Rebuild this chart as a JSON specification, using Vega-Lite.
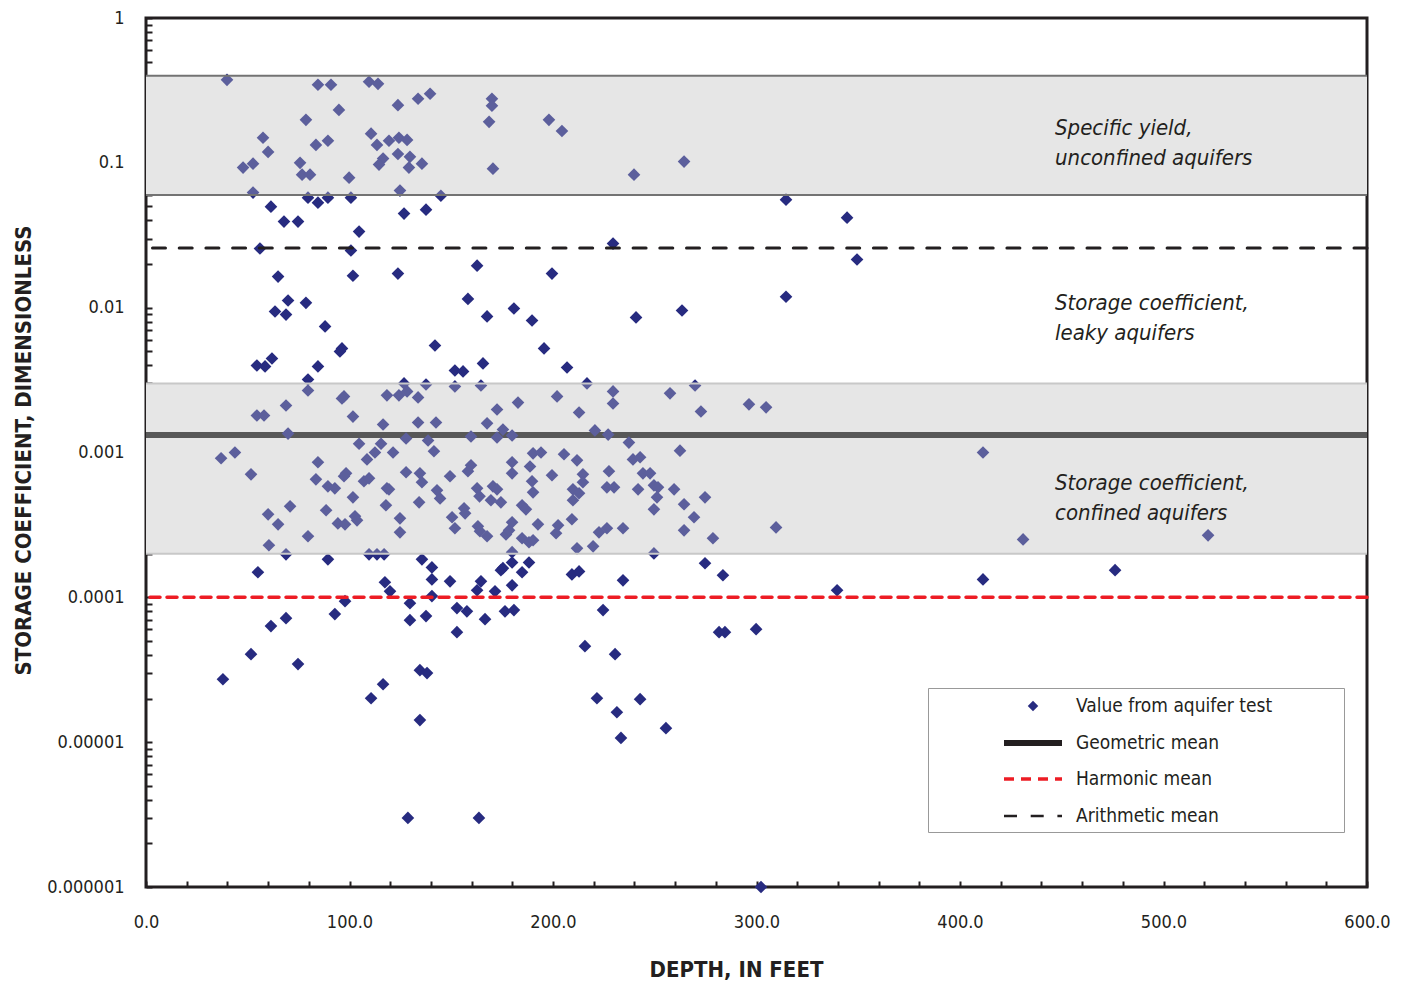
{
  "$schema": "https://vega.github.io/schema/vega-lite/v6.json",
  "width": 1221,
  "height": 869,
  "autosize": {"type": "none"},
  "padding": {"left": 146, "top": 18, "right": 35, "bottom": 94},
  "background": "white",
  "config": {
    "view": {"stroke": "#231f20", "strokeWidth": 3},
    "font": "DejaVu Sans Condensed, Roboto, sans-serif",
    "axis": {
      "labelFont": "DejaVu Sans Condensed, Roboto, sans-serif",
      "labelFontSize": 18,
      "labelColor": "#231f20",
      "titleFont": "DejaVu Sans Condensed, Roboto, sans-serif",
      "titleFontSize": 22,
      "titleFontWeight": "bold",
      "titleColor": "#231f20",
      "grid": false,
      "domain": false,
      "tickColor": "#231f20",
      "tickWidth": 2
    },
    "legend": {"padding": 0}
  },
  "resolve": {"scale": {"strokeDash": "independent"}, "legend": {"strokeDash": "independent"}},
  "layer": [
    {
      "data": {"values": [{"lo": 0.06, "hi": 0.4}, {"lo": 0.0002, "hi": 0.003}]},
      "mark": {"type": "rect", "fill": "#e6e6e6"},
      "encoding": {
        "x": {"datum": 0, "type": "quantitative", "scale": {"domain": [0, 600], "nice": false, "zero": false},
          "axis": {"title": "DEPTH, IN FEET", "values": [0,20,40,60,80,100,120,140,160,180,200,220,240,260,280,300,320,340,360,380,400,420,440,460,480,500,520,540,560,580,600],
            "format": ".1f", "labelExpr": "datum.value % 100 === 0 ? datum.label : ''", "labelOverlap": false, "labelBound": false, "labelFlush": false,
            "tickSize": -6, "labelPadding": 32, "titleX": 590, "titleY": 82, "titleBaseline": "middle"}},
        "x2": {"datum": 600},
        "y": {"field": "hi", "type": "quantitative", "scale": {"type": "log", "domain": [0.000001, 1], "nice": false},
          "axis": {"title": "STORAGE COEFFICIENT, DIMENSIONLESS",
            "values": [0.000001,0.000002,0.000003,0.000004,0.000005,0.000006,0.000007,0.000008,0.000009,0.00001,0.00002,0.00003,0.00004,0.00005,0.00006,0.00007,0.00008,0.00009,0.0001,0.0002,0.0003,0.0004,0.0005,0.0006,0.0007,0.0008,0.0009,0.001,0.002,0.003,0.004,0.005,0.006,0.007,0.008,0.009,0.01,0.02,0.03,0.04,0.05,0.06,0.07,0.08,0.09,0.1,0.2,0.3,0.4,0.5,0.6,0.7,0.8,0.9,1],
            "format": "~f",
            "labelExpr": "abs(log(datum.value)/LN10 - round(log(datum.value)/LN10)) < 0.000001 ? datum.label : ''",
            "labelOverlap": false, "labelBound": false, "labelFlush": false,
            "tickSize": -6, "labelPadding": 28, "titleX": -123, "titleY": 432, "titleBaseline": "middle", "titleAngle": 270, "titleAlign": "center"}},
        "y2": {"field": "lo"}
      }
    },
    {
      "data": {"values": [{"s": 0.00132}]},
      "mark": {"type": "rule", "strokeWidth": 6, "color": "#222222"},
      "encoding": {
        "y": {"field": "s", "type": "quantitative"},
        "strokeDash": {"datum": "Geometric mean", "type": "nominal", "scale": {"range": [[1, 0]]},
          "legend": {"title": null, "orient": "none", "legendX": 874, "legendY": 712, "padding": 0, "symbolOffset": 0, "labelOffset": 0,
            "labelExpr": "''", "labelFontSize": 1, "symbolType": "M-2.9,0H2.9", "symbolSize": 400, "symbolStrokeWidth": 6, "symbolStrokeColor": "#231f20"}}
      }
    },
    {
      "data": {"values": [
        {"d":39.8,"s":0.374},{"d":84.5,"s":0.346},{"d":90.9,"s":0.346},{"d":109.6,"s":0.363},{"d":114,"s":0.351},{"d":139.6,"s":0.30},{"d":133.7,"s":0.277},{"d":170,"s":0.277},{"d":170,"s":0.248},{"d":123.8,"s":0.25},
        {"d":94.8,"s":0.232},{"d":78.6,"s":0.198},{"d":168.6,"s":0.192},{"d":198,"s":0.198},{"d":204.4,"s":0.166},{"d":110.6,"s":0.159},{"d":57.5,"s":0.149},{"d":89.4,"s":0.142},{"d":83.5,"s":0.133},{"d":119.4,"s":0.142},
        {"d":124.3,"s":0.149},{"d":128.3,"s":0.144},{"d":113.5,"s":0.133},{"d":60,"s":0.119},{"d":123.8,"s":0.115},{"d":116.5,"s":0.107},{"d":129.7,"s":0.110},{"d":47.7,"s":0.0927},{"d":52.6,"s":0.0987},{"d":75.7,"s":0.1},
        {"d":114.5,"s":0.0972},{"d":129.2,"s":0.0927},{"d":135.6,"s":0.0987},{"d":170.5,"s":0.0912},{"d":76.7,"s":0.0829},{"d":80.6,"s":0.0829},{"d":99.8,"s":0.079},{"d":239.8,"s":0.0829},{"d":264.4,"s":0.102},{"d":52.6,"s":0.0623},
        {"d":124.8,"s":0.0643},{"d":79.6,"s":0.0575},{"d":84.5,"s":0.0531},{"d":89.4,"s":0.0575},{"d":100.7,"s":0.0575},{"d":144.9,"s":0.0593},{"d":61.4,"s":0.0498},{"d":67.8,"s":0.0393},{"d":74.7,"s":0.0393},{"d":126.8,"s":0.0446},
        {"d":137.6,"s":0.0475},{"d":104.7,"s":0.0335},{"d":56,"s":0.0256},{"d":100.7,"s":0.0248},{"d":229.5,"s":0.0277},{"d":314.5,"s":0.0557},{"d":344.5,"s":0.0418},{"d":349.4,"s":0.0215},{"d":199.5,"s":0.0172},{"d":64.9,"s":0.0164},
        {"d":101.7,"s":0.0166},{"d":123.8,"s":0.0172},{"d":162.7,"s":0.0195},{"d":314.5,"s":0.0119},{"d":69.8,"s":0.0112},{"d":78.6,"s":0.0108},{"d":158.2,"s":0.0115},{"d":180.8,"s":0.00987},{"d":189.7,"s":0.00816},{"d":195.6,"s":0.00523},
        {"d":63.4,"s":0.00941},{"d":68.8,"s":0.00896},{"d":167.6,"s":0.0087},{"d":240.8,"s":0.00856},{"d":263.4,"s":0.00956},{"d":88,"s":0.00742},{"d":96.3,"s":0.00523},{"d":95.3,"s":0.00498},{"d":142,"s":0.00548},{"d":54.5,"s":0.00399},
        {"d":58.5,"s":0.00393},{"d":61.9,"s":0.00446},{"d":84.5,"s":0.00393},{"d":79.6,"s":0.00319},{"d":151.8,"s":0.00368},{"d":155.8,"s":0.00363},{"d":165.6,"s":0.00412},{"d":206.9,"s":0.00386},{"d":216.7,"s":0.0030},{"d":269.8,"s":0.0029},
        {"d":126.8,"s":0.0030},{"d":137.6,"s":0.00295},{"d":151.8,"s":0.00286},{"d":164.6,"s":0.0029},{"d":79.6,"s":0.00268},{"d":97.3,"s":0.00244},{"d":96.3,"s":0.00236},{"d":118.4,"s":0.00248},{"d":124.3,"s":0.00248},{"d":128.3,"s":0.00264},
        {"d":133.7,"s":0.0024},{"d":229.5,"s":0.00264},{"d":229.5,"s":0.00218},{"d":257.5,"s":0.00256},{"d":202,"s":0.00244},{"d":182.8,"s":0.00221},{"d":212.8,"s":0.00189},{"d":272.7,"s":0.00192},{"d":296.3,"s":0.00215},{"d":304.7,"s":0.00205},
        {"d":68.8,"s":0.00211},{"d":172.5,"s":0.00198},{"d":54.5,"s":0.0018},{"d":58,"s":0.0018},{"d":101.7,"s":0.00177},{"d":116.5,"s":0.00156},{"d":133.7,"s":0.00161},{"d":142.5,"s":0.00161},{"d":167.6,"s":0.00159},{"d":69.8,"s":0.00135},
        {"d":159.7,"s":0.00129},{"d":172.5,"s":0.00127},{"d":175.4,"s":0.00144},{"d":179.9,"s":0.00131},{"d":127.8,"s":0.00125},{"d":138.6,"s":0.00121},{"d":220.6,"s":0.00142},{"d":227.1,"s":0.00133},{"d":237.3,"s":0.00117},{"d":104.7,"s":0.00115},
        {"d":115.5,"s":0.00115},{"d":112.5,"s":0.001},{"d":121.4,"s":0.001},{"d":141.5,"s":0.00102},{"d":43.7,"s":0.001},{"d":36.9,"s":0.000912},{"d":108.6,"s":0.000896},{"d":84.5,"s":0.000856},{"d":51.6,"s":0.000707},{"d":83.5,"s":0.000653},
        {"d":89.4,"s":0.000584},{"d":92.8,"s":0.000566},{"d":98.3,"s":0.000718},{"d":97.3,"s":0.000685},{"d":107.1,"s":0.000633},{"d":109.6,"s":0.000663},{"d":118.4,"s":0.000566},{"d":119.4,"s":0.000557},{"d":127.8,"s":0.00073},{"d":134.6,"s":0.000718},
        {"d":135.6,"s":0.000623},{"d":149.4,"s":0.000685},{"d":143,"s":0.000548},{"d":144.5,"s":0.000482},{"d":159.7,"s":0.000816},{"d":158.2,"s":0.000742},{"d":162.7,"s":0.000566},{"d":163.9,"s":0.000498},{"d":170.5,"s":0.000584},{"d":172.5,"s":0.000557},
        {"d":169.5,"s":0.000468},{"d":174.4,"s":0.000453},{"d":179.9,"s":0.000856},{"d":179.9,"s":0.000718},{"d":188.7,"s":0.0008},{"d":189.7,"s":0.000633},{"d":190.2,"s":0.000531},{"d":190.2,"s":0.000987},{"d":194.1,"s":0.001},{"d":205.4,"s":0.000972},
        {"d":211.8,"s":0.000883},{"d":199.5,"s":0.000696},{"d":214.7,"s":0.000707},{"d":214.7,"s":0.000623},{"d":209.8,"s":0.000557},{"d":212.8,"s":0.000523},{"d":209.8,"s":0.000468},{"d":227.5,"s":0.000742},{"d":239.3,"s":0.000896},{"d":242.8,"s":0.000927},
        {"d":244.2,"s":0.000718},{"d":247.7,"s":0.000718},{"d":226.5,"s":0.000575},{"d":230,"s":0.000575},{"d":241.8,"s":0.000557},{"d":249.6,"s":0.000593},{"d":251.6,"s":0.000575},{"d":251.1,"s":0.00049},{"d":249.6,"s":0.000405},{"d":259.5,"s":0.000557},
        {"d":264.4,"s":0.000439},{"d":274.7,"s":0.00049},{"d":269.3,"s":0.000357},{"d":264.4,"s":0.00029},{"d":278.6,"s":0.000256},{"d":309.6,"s":0.000304},{"d":262.4,"s":0.00103},{"d":117.9,"s":0.000432},{"d":134.2,"s":0.000453},{"d":101.7,"s":0.00049},
        {"d":70.8,"s":0.000425},{"d":60,"s":0.000374},{"d":64.9,"s":0.000319},{"d":88.5,"s":0.000399},{"d":94.3,"s":0.000324},{"d":97.8,"s":0.000319},{"d":102.7,"s":0.000363},{"d":103.7,"s":0.00034},{"d":124.8,"s":0.000351},{"d":124.8,"s":0.000281},
        {"d":79.6,"s":0.000264},{"d":60.4,"s":0.000229},{"d":150.4,"s":0.000357},{"d":151.8,"s":0.0003},{"d":156.3,"s":0.000412},{"d":156.8,"s":0.00038},{"d":163.1,"s":0.000309},{"d":164.1,"s":0.000286},{"d":167.6,"s":0.000264},{"d":176.9,"s":0.000272},
        {"d":178.4,"s":0.00029},{"d":179.9,"s":0.00033},{"d":184.8,"s":0.000432},{"d":186.7,"s":0.000405},{"d":184.8,"s":0.000256},{"d":188.2,"s":0.00024},{"d":190.2,"s":0.000248},{"d":192.6,"s":0.000319},{"d":209.3,"s":0.000346},{"d":202.5,"s":0.000314},
        {"d":201.5,"s":0.000277},{"d":222.6,"s":0.000281},{"d":226.5,"s":0.0003},{"d":234.4,"s":0.0003},{"d":211.8,"s":0.000218},{"d":219.7,"s":0.000225},{"d":249.6,"s":0.000201},{"d":68.8,"s":0.000198},{"d":109.6,"s":0.000198},{"d":113.5,"s":0.000198},
        {"d":117,"s":0.000198},{"d":89.4,"s":0.000183},{"d":55,"s":0.000149},{"d":135.6,"s":0.000183},{"d":140.5,"s":0.000161},{"d":140.5,"s":0.000133},{"d":149.4,"s":0.000129},{"d":117.4,"s":0.000127},{"d":119.9,"s":0.00011},{"d":140.5,"s":0.000102},
        {"d":164.6,"s":0.000129},{"d":162.7,"s":0.000112},{"d":174.4,"s":0.000154},{"d":179.9,"s":0.000174},{"d":179.9,"s":0.000205},{"d":184.8,"s":0.000149},{"d":188.2,"s":0.000174},{"d":171.5,"s":0.00011},{"d":179.9,"s":0.000121},{"d":175.4,"s":0.000159},
        {"d":209.3,"s":0.000144},{"d":212.8,"s":0.000151},{"d":234.4,"s":0.000131},{"d":274.7,"s":0.000172},{"d":283.5,"s":0.000142},{"d":339.6,"s":0.000112},{"d":411.3,"s":0.000133},{"d":476.2,"s":0.000154},{"d":411.3,"s":0.001},{"d":431,"s":0.000251},
        {"d":521.9,"s":0.000268},{"d":97.8,"s":0.0000941},{"d":92.8,"s":0.0000766},{"d":129.7,"s":0.0000912},{"d":129.7,"s":0.0000696},{"d":137.6,"s":0.0000742},{"d":152.8,"s":0.0000843},{"d":157.7,"s":0.00008},{"d":152.8,"s":0.0000575},{"d":166.6,"s":0.0000707},
        {"d":176.4,"s":0.00008},{"d":180.8,"s":0.0000816},{"d":224.6,"s":0.0000816},{"d":61.4,"s":0.0000633},{"d":68.8,"s":0.0000718},{"d":51.6,"s":0.0000405},{"d":74.7,"s":0.0000346},{"d":37.8,"s":0.0000272},{"d":116.5,"s":0.0000251},{"d":110.6,"s":0.0000201},
        {"d":134.6,"s":0.0000314},{"d":138.1,"s":0.00003},{"d":134.6,"s":0.0000142},{"d":215.7,"s":0.000046},{"d":230.5,"s":0.0000405},{"d":221.6,"s":0.0000201},{"d":231.4,"s":0.0000161},{"d":242.8,"s":0.0000198},{"d":233.4,"s":0.0000107},{"d":255.5,"s":0.0000125},
        {"d":281.6,"s":0.0000575},{"d":284.5,"s":0.0000575},{"d":299.8,"s":0.0000603},{"d":128.7,"s":0.000003},{"d":163.6,"s":0.000003},{"d":302.2,"s":0.000001}
      ]},
      "mark": {"type": "point", "shape": "diamond", "filled": true, "size": 160, "opacity": 1, "clip": false},
      "encoding": {
        "x": {"field": "d", "type": "quantitative"},
        "y": {"field": "s", "type": "quantitative"},
        "shape": {"datum": "Value from aquifer test", "type": "nominal", "scale": {"range": ["diamond"]},
          "legend": {"title": null, "orient": "none", "legendX": 881.5, "legendY": 682.5, "padding": 0, "symbolOffset": 0, "labelOffset": 0,
            "labelExpr": "''", "labelFontSize": 1, "symbolSize": 110, "symbolStrokeWidth": 0, "symbolFillColor": "#272b80", "symbolStrokeColor": "#272b80"}},
        "color": {
          "datum": "Value from aquifer test",
          "scale": {"domain": ["Value from aquifer test", "Geometric mean", "Harmonic mean", "Arithmetic mean"], "range": ["#272b80", "#222222", "#ed1c24", "#231f20"]},
          "legend": {
            "title": "\u00a0",
            "titleOrient": "right",
            "titlePadding": 67,
            "titleFontSize": 10,
            "orient": "none",
            "legendX": 782,
            "legendY": 670,
            "padding": 5,
            "strokeColor": "#999999",
            "labelFont": "DejaVu Sans Condensed, Roboto, sans-serif",
            "labelFontSize": 19,
            "labelColor": "#231f20",
            "labelLimit": 400,
            "symbolOffset": 60,
            "labelOffset": 57,
            "rowPadding": 13.7,
            "symbolType": "M-2.8,0H2.8",
            "symbolSize": 400,
            "symbolStrokeWidth": 6,
            "symbolOpacity": 0
          }
        }
      }
    },
    {
      "data": {"values": [{"lo": 0.06, "hi": 0.4}, {"lo": 0.0002, "hi": 0.003}]},
      "mark": {"type": "rect", "fill": "#e6e6e6", "fillOpacity": 0.28},
      "encoding": {
        "x": {"datum": 0},
        "x2": {"datum": 600},
        "y": {"field": "hi", "type": "quantitative"},
        "y2": {"field": "lo"}
      }
    },
    {
      "data": {"values": [{"b": 0.4, "edge": "dark"}, {"b": 0.06, "edge": "dark"}, {"b": 0.003, "edge": "light"}, {"b": 0.0002, "edge": "light"}]},
      "mark": {"type": "rule", "strokeWidth": 2},
      "encoding": {
        "y": {"field": "b", "type": "quantitative"},
        "stroke": {"field": "edge", "type": "nominal", "scale": {"domain": ["dark", "light"], "range": ["#737373", "#c8c8c8"]}, "legend": null}
      }
    },
    {
      "data": {"values": [{"s": 0.0001}]},
      "mark": {"type": "rule", "strokeWidth": 3.5, "strokeCap": "round", "color": "#ed1c24"},
      "encoding": {
        "y": {"field": "s", "type": "quantitative"},
        "strokeDash": {"datum": "Harmonic mean", "type": "nominal", "scale": {"range": [[10, 7]]},
          "legend": {"title": null, "orient": "none", "legendX": 875, "legendY": 749, "padding": 0, "symbolOffset": 0, "labelOffset": 0,
            "labelExpr": "''", "labelFontSize": 1, "symbolType": "M-2.9,0H2.9", "symbolSize": 400, "symbolStrokeWidth": 3.5, "symbolStrokeColor": "#ed1c24"}}
      }
    },
    {
      "data": {"values": [{"s": 0.0258}]},
      "mark": {"type": "rule", "strokeWidth": 3, "strokeCap": "round", "color": "#231f20"},
      "encoding": {
        "y": {"field": "s", "type": "quantitative"},
        "strokeDash": {"datum": "Arithmetic mean", "type": "nominal", "scale": {"range": [[13, 13.7]]},
          "legend": {"title": null, "orient": "none", "legendX": 875.5, "legendY": 786.5, "padding": 0, "symbolOffset": 0, "labelOffset": 0,
            "labelExpr": "''", "labelFontSize": 1, "symbolType": "M-2.9,0H2.9", "symbolSize": 400, "symbolStrokeWidth": 2.5, "symbolStrokeColor": "#231f20"}}
      }
    },
    {
      "data": {"values": [
        {"label": "Specific yield,\nunconfined aquifers", "d": 446.7, "s": 0.1745},
        {"label": "Storage coefficient,\nleaky aquifers", "d": 446.7, "s": 0.0107},
        {"label": "Storage coefficient,\nconfined aquifers", "d": 446.7, "s": 0.000613}
      ]},
      "mark": {"type": "text", "align": "left", "baseline": "middle", "fontSize": 22, "fontStyle": "italic", "font": "DejaVu Sans Condensed, Roboto, sans-serif", "color": "#231f20", "lineBreak": "\n", "lineHeight": 30},
      "encoding": {
        "x": {"field": "d", "type": "quantitative"},
        "y": {"field": "s", "type": "quantitative"},
        "text": {"field": "label"}
      }
    }
  ]
}
